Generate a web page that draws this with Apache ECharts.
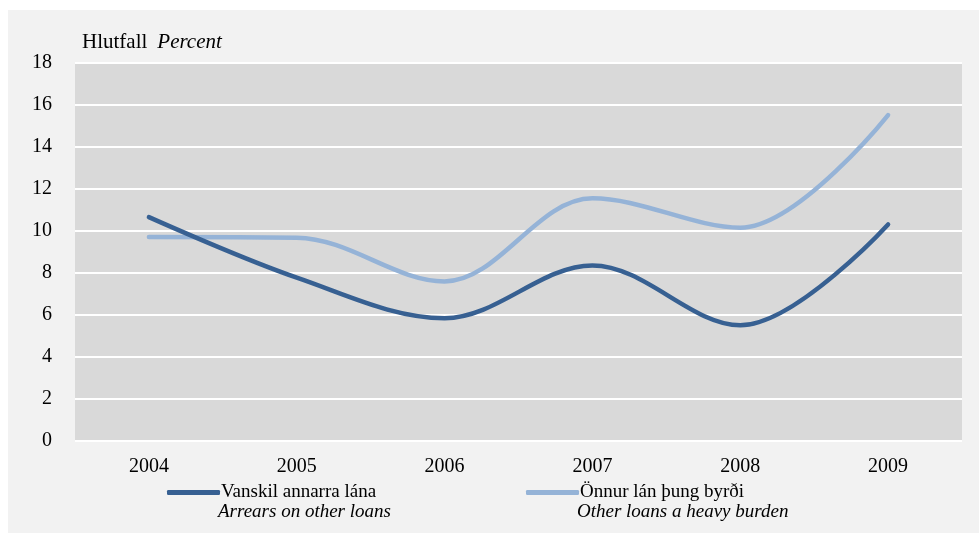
<!DOCTYPE html>
<html>
<head>
<meta charset="utf-8">
<script src="https://cdn.jsdelivr.net/npm/echarts@6/dist/echarts.min.js"></script>
<style>
html,body{margin:0;padding:0;background:#ffffff;}
#chart{width:979px;height:533px;}
</style>
</head>
<body>
<div id="chart"></div>
<script>
var years = ['2004', '2005', '2006', '2007', '2008', '2009'];
var arrears = [10.66, 7.78, 5.85, 8.36, 5.51, 10.31];
var heavyBurden = [9.71, 9.68, 7.6, 11.56, 10.16, 15.52];
var yTicks = [0, 2, 4, 6, 8, 10, 12, 14, 16, 18];
var seriesNames = ['Vanskil annarra lána', 'Önnur lán þung byrði'];
var seriesNamesEn = ['Arrears on other loans', 'Other loans a heavy burden'];
var colors = ['#376092', '#95b3d7'];

var FONT = '"Liberation Serif", "Times New Roman", serif';
var chart = echarts.init(document.getElementById('chart'), null, {renderer: 'canvas'});

var option = {
  backgroundColor: '#ffffff',
  animation: false,
  textStyle: {fontFamily: FONT},
  graphic: [
    {type: 'rect', z: -10, shape: {x: 8, y: 10, width: 971, height: 523}, style: {fill: '#f2f2f2'}},
    {type: 'text', left: 82, top: 32, style: {
      text: '{a|Hlutfall}{b|Percent}',
      rich: {
        a: {fontFamily: FONT, fontSize: 21, fill: '#000', padding: [0, 10, 0, 0]},
        b: {fontFamily: FONT, fontSize: 21, fontStyle: 'italic', fill: '#000'}
      }
    }},
    {type: 'text', left: 218, top: 502, style: {text: seriesNamesEn[0], fontFamily: FONT, fontSize: 19, fontStyle: 'italic', fill: '#000'}},
    {type: 'text', left: 577, top: 502, style: {text: seriesNamesEn[1], fontFamily: FONT, fontSize: 19, fontStyle: 'italic', fill: '#000'}}
  ],
  legend: [
    {
      left: 162, top: 478, itemWidth: 53, itemHeight: 5, itemGap: 0,
      icon: 'roundRect',
      data: [{name: seriesNames[0], itemStyle: {color: colors[0]}}],
      textStyle: {fontFamily: FONT, fontSize: 19, color: '#000', padding: [0, 0, 0, -4]}
    },
    {
      left: 521, top: 478, itemWidth: 53, itemHeight: 5, itemGap: 0,
      icon: 'roundRect',
      data: [{name: seriesNames[1], itemStyle: {color: colors[1]}}],
      textStyle: {fontFamily: FONT, fontSize: 19, color: '#000', padding: [0, 0, 0, -4]}
    }
  ],
  grid: {
    left: 75, right: 17, top: 63, bottom: 92,
    show: true, backgroundColor: '#d9d9d9', borderWidth: 0,
    containLabel: false
  },
  xAxis: {
    type: 'category',
    data: years,
    boundaryGap: true,
    axisLine: {show: false},
    axisTick: {show: false},
    axisLabel: {fontFamily: FONT, fontSize: 20, color: '#000', margin: 16}
  },
  yAxis: {
    type: 'value',
    min: yTicks[0],
    max: yTicks[yTicks.length - 1],
    interval: 2,
    axisLine: {show: false},
    axisTick: {show: false},
    axisLabel: {fontFamily: FONT, fontSize: 20, color: '#000', margin: 23},
    splitLine: {show: true, lineStyle: {color: '#ffffff', width: 2}}
  },
  series: [
    {
      name: seriesNames[0], type: 'line', data: arrears, smooth: 0.35,
      symbol: 'none', z: 3,
      lineStyle: {color: colors[0], width: 4.5, cap: 'round'},
      itemStyle: {color: colors[0]}
    },
    {
      name: seriesNames[1], type: 'line', data: heavyBurden, smooth: 0.35,
      symbol: 'none', z: 2,
      lineStyle: {color: colors[1], width: 4.5, cap: 'round'},
      itemStyle: {color: colors[1]}
    }
  ]
};
chart.setOption(option);
</script>
</body>
</html>
